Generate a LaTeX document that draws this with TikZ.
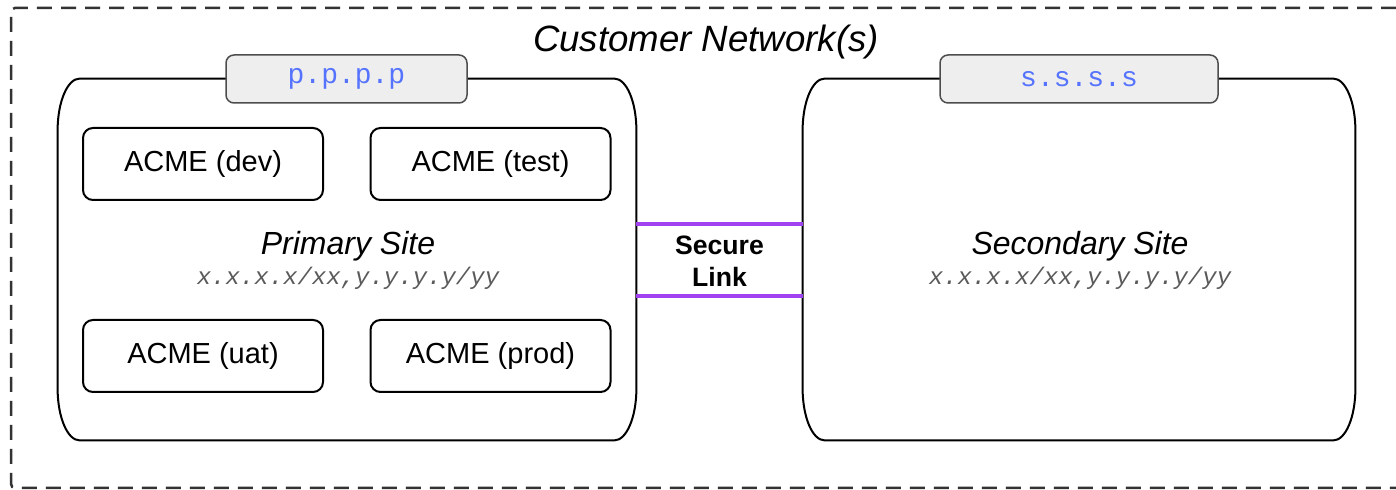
\documentclass[tikz,border=0pt]{standalone}
\usepackage{fontspec}
\setmainfont{Liberation Sans}
\setmonofont{Liberation Mono}
\definecolor{tabfill}{HTML}{EEEEEE}
\definecolor{tabdraw}{HTML}{4D4D4D}
\definecolor{ipblue}{HTML}{5573FE}
\definecolor{addrgray}{HTML}{5A5A5A}
\definecolor{linkpurple}{HTML}{A040F0}
\definecolor{borderdark}{HTML}{333333}
\begin{document}
\begin{tikzpicture}[x=0.5pt,y=-0.5pt,
  sitebox/.style={draw=none,minimum width=289pt,minimum height=180.5pt,inner sep=0pt},
  siteline/.style={draw=black,line width=1pt},
  tabbox/.style={draw=tabdraw,fill=tabfill,line width=0.75pt,rounded corners=4pt,minimum width=120.5pt,minimum height=24pt,inner sep=0pt,font=\ttfamily\fontsize{14pt}{16pt}\selectfont,text=ipblue},
  envbox/.style={draw=black,line width=1pt,rounded corners=5pt,minimum width=120pt,minimum height=36pt,inner sep=0pt,font=\fontsize{14.5pt}{17pt}\selectfont},
  sitelabel/.style={font=\itshape\fontsize{16pt}{19pt}\selectfont},
  addr/.style={font=\ttfamily\itshape\fontsize{12pt}{14pt}\selectfont,text=addrgray},
  link/.style={draw=linkpurple,line width=2pt},
  outer/.style={draw=borderdark,line width=1.25pt,dash pattern=on 7.5pt off 4.5pt}
]
\useasboundingbox (0,0) rectangle (1396,490);
% outer dashed boundary (extends beyond right edge)
\draw[outer] (1396,8) -- (15,8) arc[start angle=90,end angle=180,radius=2pt] -- (11,484) arc[start angle=180,end angle=270,radius=2pt] -- (1396,488);
\node[font=\itshape\fontsize{18.3pt}{21pt}\selectfont] (title) at (706,42) {Customer Network(s)};

% site boxes
\node[sitebox] (prim) at (347,259.5) {};
\node[sitebox,minimum width=276pt] (sec) at (1079,259.5) {};
\foreach \n in {prim,sec}{
  \draw[siteline] ([xshift=11pt]\n.north west) -- ([xshift=-11pt]\n.north east)
    arc[start angle=90,end angle=0,x radius=11pt,y radius=26pt]
    -- ([yshift=26pt]\n.south east)
    arc[start angle=0,end angle=-90,x radius=11pt,y radius=26pt]
    -- ([xshift=11pt]\n.south west)
    arc[start angle=270,end angle=180,x radius=11pt,y radius=26pt]
    -- ([yshift=-26pt]\n.north west)
    arc[start angle=180,end angle=90,x radius=11pt,y radius=26pt] -- cycle;
}

% tabs
\node[tabbox] (ptab) at (346.5,79) {p.p.p.p};
\node[tabbox,minimum width=139pt] (stab) at (1079,79) {s.s.s.s};

% environment boxes
\node[envbox] (dev) at (203,164) {ACME (dev)};
\node[envbox] (test) at (490.5,164) {ACME (test)};
\node[envbox] (uat) at (203,356) {ACME (uat)};
\node[envbox] (prod) at (490.5,356) {ACME (prod)};

% site labels
\node[sitelabel] (plabel) at (348,246) {Primary Site};
\node[addr] (paddr) at (348,278) {x.x.x.x/xx,y.y.y.y/yy};
\node[sitelabel] (slabel) at (1080,246) {Secondary Site};
\node[addr] (saddr) at (1080,278) {x.x.x.x/xx,y.y.y.y/yy};

% secure link
\draw[link] ([yshift=17.75pt]prim.east) -- ([yshift=17.75pt]sec.west);
\draw[link] ([yshift=-18.25pt]prim.east) -- ([yshift=-18.25pt]sec.west);
\node[font=\bfseries\fontsize{13.3pt}{16pt}\selectfont,align=center] (linklabel) at (719.5,261) {Secure\\Link};
\end{tikzpicture}
\end{document}
